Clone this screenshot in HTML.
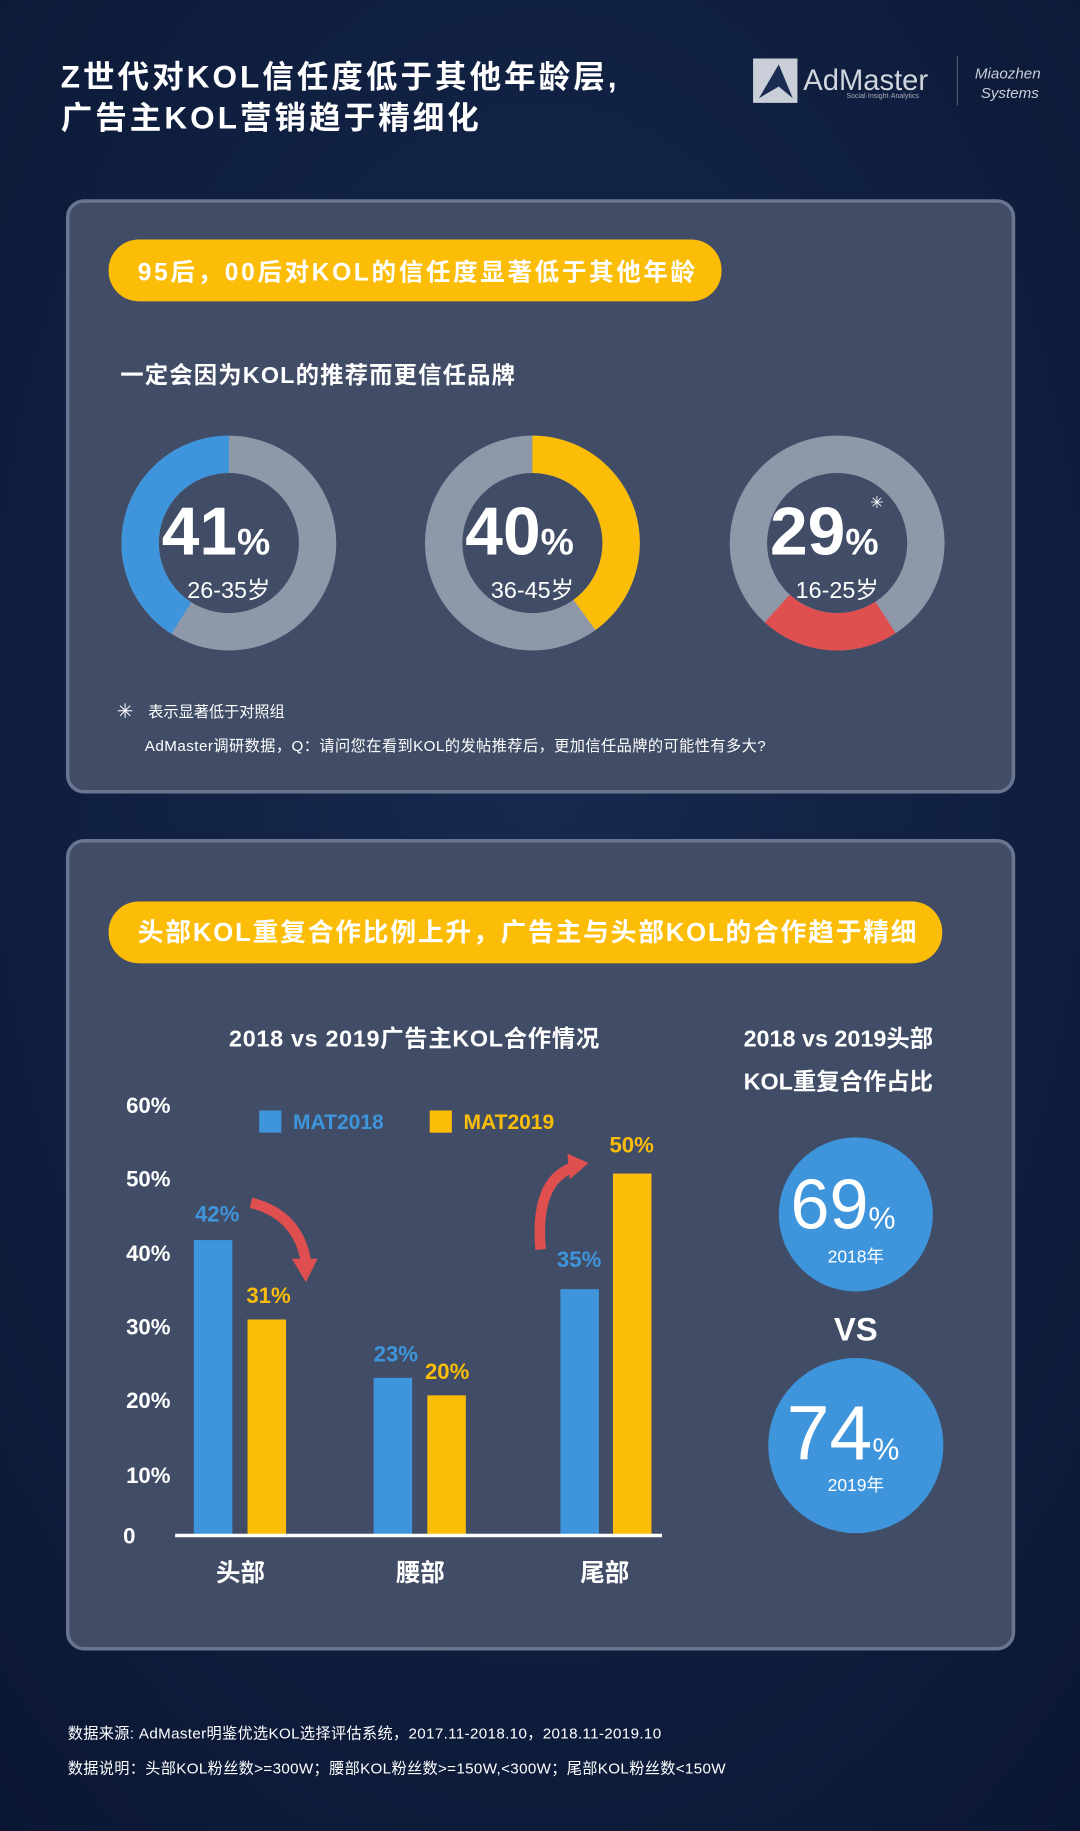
<!DOCTYPE html>
<html><head><meta charset="utf-8"><style>
html,body{margin:0;padding:0;background:#0c1a38;}
svg{display:block;font-family:"Liberation Sans","Noto Sans CJK SC",sans-serif;}
</style></head><body>
<svg width="1080" height="1831" viewBox="0 0 925 1568" xmlns="http://www.w3.org/2000/svg">
<defs>
<radialGradient id="bg" cx="50%" cy="40%" r="80%"><stop offset="0" stop-color="#172a50"/><stop offset="1" stop-color="#0a1632"/></radialGradient>
</defs>
<rect width="925" height="1568" fill="url(#bg)"/>
<text x="52" y="75" fill="#fff" font-size="27" font-weight="bold" letter-spacing="2.6">Z世代对KOL信任度低于其他年龄层,</text>
<text x="52" y="110" fill="#fff" font-size="27" font-weight="bold" letter-spacing="2.6">广告主KOL营销趋于精细化</text>
<rect x="645" y="50" width="38" height="38" fill="#c9ced8"/>
<path d="M650 84 L667 55 L679 84 L667 74 Z" fill="#1a2c52"/>
<text x="688" y="77" fill="#d0d5de" font-size="25">AdMaster</text>
<text x="725" y="84" fill="#aab" font-size="6">Social·Insight·Analytics</text>
<line x1="820" y1="48" x2="820" y2="90" stroke="#556" />
<text x="835" y="67" fill="#c9ced8" font-size="13" font-style="italic">Miaozhen</text>
<text x="840" y="84" fill="#c9ced8" font-size="13" font-style="italic">Systems</text>

<rect x="58" y="172" width="810" height="506" rx="14" fill="#414d66" stroke="#6a7690" stroke-width="3"/>
<rect x="93" y="205" width="525" height="53" rx="26" fill="#fbbd08"/>
<text x="118" y="240" fill="#fff" font-size="21" font-weight="bold" letter-spacing="2.3">95后，00后对KOL的信任度显著低于其他年龄</text>
<text x="103" y="328" fill="#fff" font-size="20" font-weight="bold" letter-spacing="1">一定会因为KOL的推荐而更信任品牌</text>

<g fill="none" stroke-width="32">
<circle cx="196" cy="465" r="76" stroke="#8e98a9"/>
<circle cx="196" cy="465" r="76" stroke="#3f95db" stroke-dasharray="195.8 477.5" style="transform-origin:196px 465px;transform:rotate(-90deg) scaleY(-1)"/>
<circle cx="456" cy="465" r="76" stroke="#8e98a9"/>
<circle cx="456" cy="465" r="76" stroke="#fbbd08" stroke-dasharray="191 477.5" transform="rotate(-90 456 465)"/>
<circle cx="717" cy="465" r="76" stroke="#8e98a9"/>
<circle cx="717" cy="465" r="76" stroke="#df4f4f" stroke-dasharray="100 477.5" transform="rotate(57 717 465)"/>
</g>
<g fill="#fff" text-anchor="middle">
<text x="185" y="475" font-size="58" font-weight="bold">41<tspan font-size="32">%</tspan></text>
<text x="196" y="512" font-size="20">26-35岁</text>
<text x="445" y="475" font-size="58" font-weight="bold">40<tspan font-size="32">%</tspan></text>
<text x="456" y="512" font-size="20">36-45岁</text>
<text x="706" y="475" font-size="58" font-weight="bold">29<tspan font-size="32">%</tspan></text>
<text x="751" y="435" font-size="14">✳</text>
<text x="717" y="512" font-size="20">16-25岁</text>
</g>
<text x="100" y="615" fill="#fff" font-size="17">✳</text>
<text x="127" y="614" fill="#fff" font-size="13">表示显著低于对照组</text>
<text x="124" y="643" fill="#fff" font-size="13" letter-spacing="0.4">AdMaster调研数据，Q：请问您在看到KOL的发帖推荐后，更加信任品牌的可能性有多大?</text>

<rect x="58" y="720" width="810" height="692" rx="14" fill="#414d66" stroke="#6a7690" stroke-width="3"/>
<rect x="93" y="772" width="714" height="53" rx="26" fill="#fbbd08"/>
<text x="118" y="806" fill="#fff" font-size="22" font-weight="bold" letter-spacing="1.6">头部KOL重复合作比例上升，广告主与头部KOL的合作趋于精细</text>
<text x="355" y="896" fill="#fff" font-size="20" font-weight="bold" text-anchor="middle" letter-spacing="0.6">2018 vs 2019广告主KOL合作情况</text>
<text x="718" y="896" fill="#fff" font-size="20" font-weight="bold" text-anchor="middle">2018 vs 2019头部</text>
<text x="718" y="933" fill="#fff" font-size="20" font-weight="bold" text-anchor="middle">KOL重复合作占比</text>

<g fill="#fff" font-size="19" font-weight="bold" text-anchor="end">
<text x="146" y="953">60%</text><text x="146" y="1016">50%</text><text x="146" y="1080">40%</text>
<text x="146" y="1143">30%</text><text x="146" y="1206">20%</text><text x="146" y="1270">10%</text><text x="116" y="1322">0</text>
</g>
<rect x="222" y="951" width="19" height="19" fill="#3f95db"/><text x="251" y="967" fill="#3f95db" font-size="18" font-weight="bold">MAT2018</text>
<rect x="368" y="951" width="19" height="19" fill="#fbbd08"/><text x="397" y="967" fill="#fbbd08" font-size="18" font-weight="bold">MAT2019</text>
<rect x="166" y="1062" width="33" height="253" fill="#3f95db"/>
<rect x="212" y="1130" width="33" height="185" fill="#fbbd08"/>
<rect x="320" y="1180" width="33" height="135" fill="#3f95db"/>
<rect x="366" y="1195" width="33" height="120" fill="#fbbd08"/>
<rect x="480" y="1104" width="33" height="211" fill="#3f95db"/>
<rect x="525" y="1005" width="33" height="310" fill="#fbbd08"/>
<line x1="150" y1="1315" x2="567" y2="1315" stroke="#fff" stroke-width="3"/>
<g font-size="19" font-weight="bold" text-anchor="middle">
<text x="186" y="1046" fill="#3f95db">42%</text><text x="230" y="1116" fill="#fbbd08">31%</text>
<text x="339" y="1166" fill="#3f95db">23%</text><text x="383" y="1181" fill="#fbbd08">20%</text>
<text x="496" y="1085" fill="#3f95db">35%</text><text x="541" y="987" fill="#fbbd08">50%</text>
</g>
<path d="M215 1030 Q255 1040 262 1080" fill="none" stroke="#df4f4f" stroke-width="9"/>
<path d="M250 1078 L272 1078 L262 1098 Z" fill="#df4f4f"/>
<path d="M463 1070 Q458 1012 490 1000" fill="none" stroke="#df4f4f" stroke-width="9"/>
<path d="M486 988 L504 996 L488 1010 Z" fill="#df4f4f"/>
<g fill="#fff" font-size="21" font-weight="bold" text-anchor="middle">
<text x="206" y="1354">头部</text><text x="360" y="1354">腰部</text><text x="518" y="1354">尾部</text>
</g>
<circle cx="733" cy="1040" r="66" fill="#3f95db"/>
<circle cx="733" cy="1238" r="75" fill="#3f95db"/>
<g fill="#fff" text-anchor="middle">
<text x="722" y="1052" font-size="60">69<tspan font-size="26">%</tspan></text>
<text x="733" y="1081" font-size="15">2018年</text>
<text x="733" y="1148" font-size="28" font-weight="bold">VS</text>
<text x="722" y="1250" font-size="66">74<tspan font-size="26">%</tspan></text>
<text x="733" y="1277" font-size="15">2019年</text>
</g>
<text x="58" y="1489" fill="#fff" font-size="13" letter-spacing="0.3">数据来源: AdMaster明鉴优选KOL选择评估系统，2017.11-2018.10，2018.11-2019.10</text>
<text x="58" y="1519" fill="#fff" font-size="13" letter-spacing="0.3">数据说明：头部KOL粉丝数&gt;=300W；腰部KOL粉丝数&gt;=150W,&lt;300W；尾部KOL粉丝数&lt;150W</text>
</svg>
</body></html>
